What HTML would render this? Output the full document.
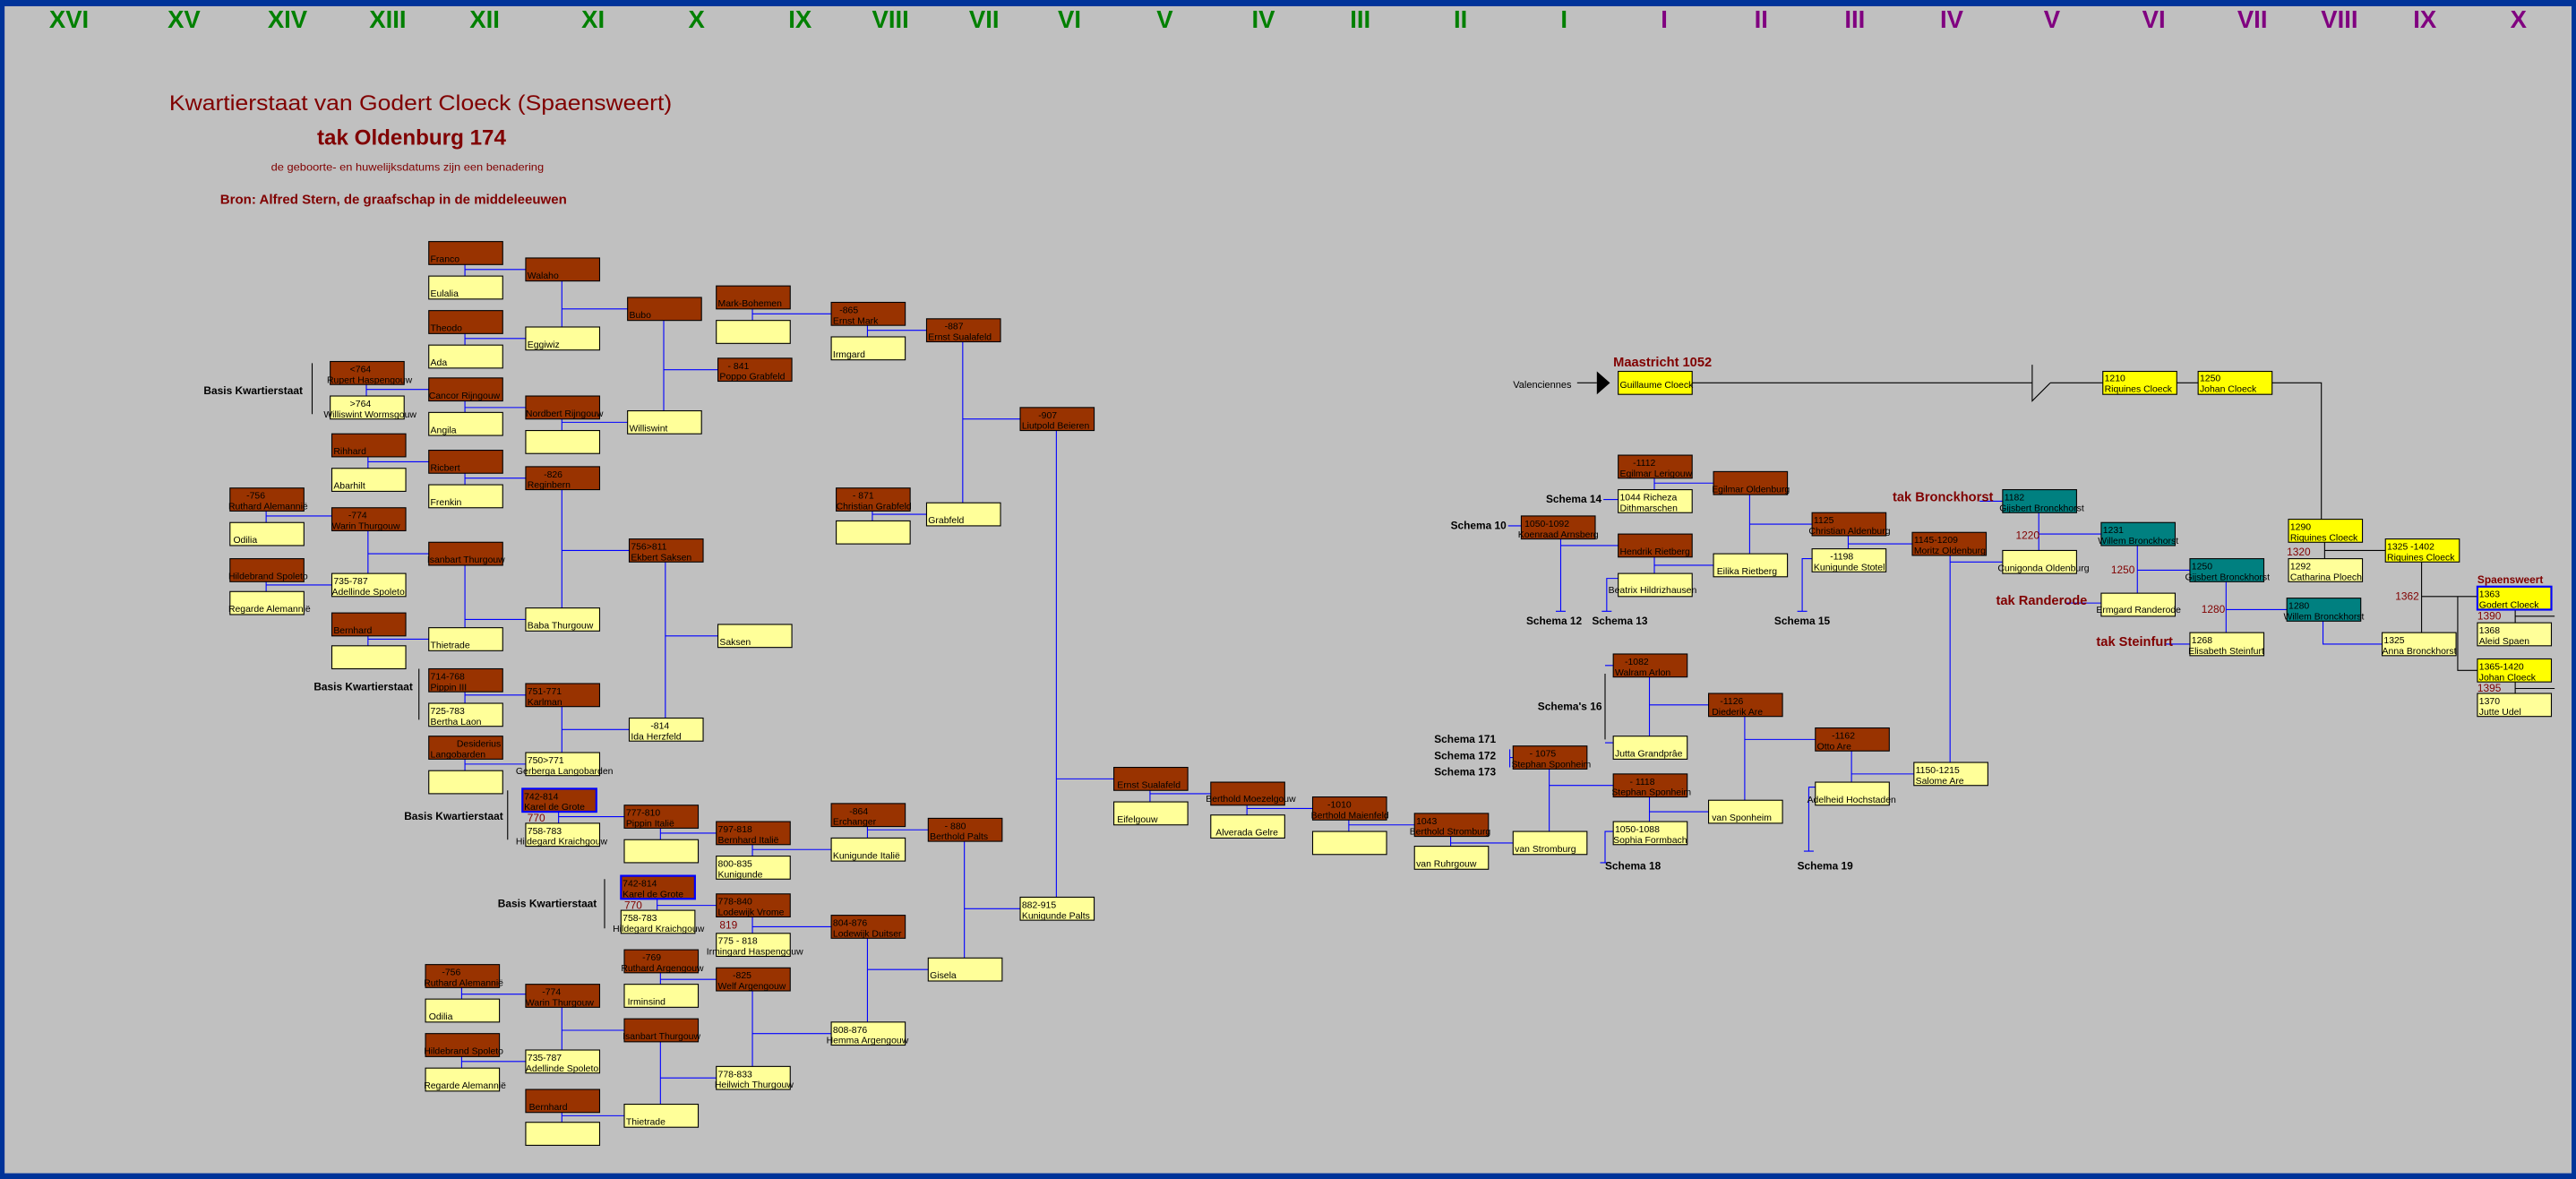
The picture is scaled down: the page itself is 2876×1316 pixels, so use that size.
<!DOCTYPE html>
<html><head><meta charset="utf-8"><style>
html,body{margin:0;padding:0;background:#c0c0c0;}
svg{display:block}
text{font-family:"Liberation Sans",Arial,sans-serif;}
.b{fill:#993300;stroke:#000;stroke-width:.6}
.y{fill:#ffff99;stroke:#000;stroke-width:.6}
.Y{fill:#ffff00;stroke:#000;stroke-width:.6}
.t{fill:#008080;stroke:#000;stroke-width:.6}
.k{fill:#993300;stroke:#0000ff;stroke-width:1.2}
.G{fill:#ffff00;stroke:#0000ff;stroke-width:1.2}
.bt text{font-size:5.7px;fill:#000}
.l{stroke:#0000ff;stroke-width:.6;fill:none}
.d{stroke:#000;stroke-width:.6;fill:none}
.n{font-size:15px;font-weight:bold;text-anchor:middle}
.s{font-size:6.5px;font-weight:bold;fill:#000}
.r{font-size:6.5px;fill:#800000}
.tak{font-size:8px;font-weight:bold;fill:#800000}
</style></head><body>
<svg width="2876" height="1316" viewBox="0 0 1568 717.5" preserveAspectRatio="none" xmlns="http://www.w3.org/2000/svg">
<rect x="0" y="0" width="1568" height="717.5" fill="#c0c0c0"/>
<rect x="0" y="0" width="1568" height="3.8" fill="#003399"/>
<rect x="0" y="714" width="1568" height="3.5" fill="#003399"/>
<rect x="0" y="0" width="2.8" height="717.5" fill="#003399"/>
<rect x="1565.3" y="0" width="2.7" height="717.5" fill="#003399"/>

<g class="n" fill="#008000">
<text x="42" y="17">XVI</text><text x="112" y="17">XV</text><text x="175" y="17">XIV</text><text x="236" y="17">XIII</text><text x="295" y="17">XII</text><text x="361" y="17">XI</text><text x="424" y="17">X</text><text x="487" y="17">IX</text><text x="542" y="17">VIII</text><text x="599" y="17">VII</text><text x="651" y="17">VI</text><text x="709" y="17">V</text><text x="769" y="17">IV</text><text x="828" y="17">III</text><text x="889" y="17">II</text><text x="952" y="17">I</text>
</g>
<g class="n" fill="#800080">
<text x="1013" y="17">I</text><text x="1072" y="17">II</text><text x="1129" y="17">III</text><text x="1188" y="17">IV</text><text x="1249" y="17">V</text><text x="1311" y="17">VI</text><text x="1371" y="17">VII</text><text x="1424" y="17">VIII</text><text x="1476" y="17">IX</text><text x="1533" y="17">X</text>
</g>

<text x="103" y="67" font-size="13" fill="#800000" textLength="306" lengthAdjust="spacingAndGlyphs">Kwartierstaat van Godert Cloeck (Spaensweert)</text>
<text x="193" y="88" font-size="13" font-weight="bold" fill="#800000" textLength="115" lengthAdjust="spacingAndGlyphs">tak Oldenburg 174</text>
<text x="165" y="104" font-size="6.5" fill="#800000" textLength="166" lengthAdjust="spacingAndGlyphs">de geboorte- en huwelijksdatums zijn een benadering</text>
<text x="134" y="124" font-size="8" font-weight="bold" fill="#800000" textLength="211" lengthAdjust="spacingAndGlyphs">Bron:  Alfred Stern, de graafschap in de middeleeuwen</text>

<g class="l">
<path d="M283 161V168M283 164H320"/>
<path d="M283 203V210M283 206H320"/>
<path d="M342 171V199M342 188H382"/>
<path d="M283 244V251M283 248H320"/>
<path d="M223 234V241M223 237H261"/>
<path d="M342 255V262M342 257H382"/>
<path d="M404 195V250M404 225H437"/>
<path d="M458 188V195M458 191H506"/>
<path d="M528 198V205M528 201H564"/>
<path d="M586 208V306M586 255H621"/>
<path d="M531 311V317M531 313H564"/>
<path d="M224 278V285M224 281H261"/>
<path d="M283 288V295M283 291H320"/>
<path d="M162 311V318M162 314H202"/>
<path d="M162 354V360M162 356H202"/>
<path d="M224 323V349M224 337H261"/>
<path d="M224 387V393M224 389H261"/>
<path d="M283 344V382M283 377H320"/>
<path d="M342 298V370M342 335H383"/>
<path d="M405 342V437M405 387H437"/>
<path d="M283 421V428M283 423H320"/>
<path d="M342 430V458M342 444H383"/>
<path d="M283 462V469M283 465H320"/>
<path d="M643 262V546M643 474H678"/>
<path d="M340 494V501M340 497H380"/>
<path d="M402 504V511M402 507H436"/>
<path d="M458 514V521M458 517H506"/>
<path d="M528 503V510M528 505H565"/>
<path d="M587 512V583M587 553H621"/>
<path d="M400 547V554M400 551H436"/>
<path d="M458 558V568M458 564H506"/>
<path d="M528 571V622M528 590H565"/>
<path d="M402 592V599M402 596H436"/>
<path d="M458 603V649M458 629H506"/>
<path d="M281 601V608M281 605H320"/>
<path d="M281 643V650M281 646H320"/>
<path d="M342 613V639M342 627H380"/>
<path d="M342 677V683M342 679H380"/>
<path d="M402 634V672M402 656H436"/>
<path d="M700 481V488M700 483H737"/>
<path d="M759 490V496M759 492H799"/>
<path d="M821 499V506M821 502H861"/>
<path d="M883 509V515M883 513H921"/>
<path d="M943 468V506M943 478H982"/>
<path d="M1004 485V500M1004 494H1040"/>
<path d="M1004 412V448M1004 429H1040"/>
<path d="M1062 436V487M1062 450H1105"/>
<path d="M1127 457V476M1127 471H1165"/>
<path d="M1187 338V464M1187 342H1219"/>
<path d="M1007 291V298M1007 294H1043"/>
<path d="M1007 339V349M1007 344H1043"/>
<path d="M1065 301V337M1065 319H1103"/>
<path d="M1125 326V334M1125 331H1164"/>
<path d="M950 328V372M947 372H953M950 332H985"/>
<path d="M985 352H978V372M975 372H981"/>
<path d="M1103 340H1097V372M1094 372H1100"/>
<path d="M976 304H985M918 320H926"/>
<path d="M1241 312V335M1241 325H1279"/>
<path d="M1301 332V361M1301 347H1333"/>
<path d="M1355 354V385M1355 371H1392"/>
<path d="M1414 378V392H1450"/>
<path d="M1205 305H1219M1258 367H1279M1318 392H1333"/>
<path d="M977 405H982M977 452H982"/>
<path d="M919 456V467M919 461H921"/>
<path d="M1105 479H1101V518M1098 518H1104M982 506H977V525M974 525H980"/>
</g>
<g class="d">
<path d="M190 221V252M255 407V438M309 481V511M368 535V565M977 410V450"/>
<path d="M1030 233H1237M1248 233H1280M1325 233H1338M1383 233H1413V316"/>
<path d="M1237 222V244L1248 233"/>
<path d="M1415 330V340M1415 335H1452"/>
<path d="M1474 342V385M1474 363H1508M1496 363V408H1508"/>
<path d="M1531 371V379M1531 375H1555M1531 415V422M1531 419H1555"/>
<path d="M960 233H972"/>
</g>
<polygon points="972,226 980,233 972,240" fill="#000"/>

<text class="s" x="124" y="240">Basis  Kwartierstaat</text>
<text class="s" x="191" y="420">Basis  Kwartierstaat</text>
<text class="s" x="246" y="499">Basis  Kwartierstaat</text>
<text class="s" x="303" y="552">Basis  Kwartierstaat</text>
<text class="r" x="321" y="500">770</text>
<text class="r" x="380" y="553">770</text>
<text class="r" x="438" y="565">819</text>
<text x="921" y="236" font-size="6">Valenciennes</text>
<text class="tak" x="982" y="223">Maastricht 1052</text>
<text class="s" x="941" y="306">Schema 14</text>
<text class="s" x="883" y="322">Schema 10</text>
<text class="s" x="929" y="380">Schema 12</text>
<text class="s" x="969" y="380">Schema 13</text>
<text class="s" x="1080" y="380">Schema 15</text>
<text class="s" x="936" y="432">Schema's 16</text>
<text class="s" x="873" y="452">Schema 171</text>
<text class="s" x="873" y="462">Schema 172</text>
<text class="s" x="873" y="472">Schema 173</text>
<text class="s" x="977" y="529">Schema 18</text>
<text class="s" x="1094" y="529">Schema 19</text>
<text class="tak" x="1152" y="305">tak Bronckhorst</text>
<text class="tak" x="1215" y="368">tak Randerode</text>
<text class="tak" x="1276" y="393">tak Steinfurt</text>
<text class="r" x="1227" y="328">1220</text>
<text class="r" x="1285" y="349">1250</text>
<text class="r" x="1340" y="373">1280</text>
<text class="r" x="1392" y="338">1320</text>
<text class="r" x="1458" y="365">1362</text>
<text class="r" x="1508" y="377">1390</text>
<text class="r" x="1508" y="421">1395</text>
<text class="tak" x="1508" y="355" font-size="6.5" style="font-size:6.5px">Spaensweert</text>

<g class="bt">
<rect class="b" x="261" y="147" width="45" height="14"/><text x="262" y="159.5">Franco</text>
<rect class="y" x="261" y="168" width="45" height="14"/><text x="262" y="180.5">Eulalia</text>
<rect class="b" x="320" y="157" width="45" height="14"/><text x="321" y="169.5">Walaho</text>
<rect class="b" x="261" y="189" width="45" height="14"/><text x="262" y="201.5">Theodo</text>
<rect class="y" x="261" y="210" width="45" height="14"/><text x="262" y="222.5">Ada</text>
<rect class="y" x="320" y="199" width="45" height="14"/><text x="321" y="211.5">Eggiwiz</text>
<rect class="b" x="382" y="181" width="45" height="14"/><text x="383" y="193.5">Bubo</text>
<rect class="b" x="261" y="230" width="45" height="14"/><text x="261" y="242.5">Cancor Rijngouw</text>
<rect class="y" x="261" y="251" width="45" height="14"/><text x="262" y="263.5">Angila</text>
<rect class="b" x="320" y="241" width="45" height="14"/><text x="320" y="253.5">Nordbert Rijngouw</text>
<rect class="y" x="320" y="262" width="45" height="14"/>
<rect class="y" x="382" y="250" width="45" height="14"/><text x="383" y="262.5">Williswint</text>
<rect class="b" x="201" y="220" width="45" height="14"/><text x="213" y="226.5">&lt;764</text><text x="199" y="233">Rupert Haspengouw</text>
<rect class="y" x="201" y="241" width="45" height="14"/><text x="213" y="247.5">&gt;764</text><text x="197" y="254">Williswint Wormsgouw</text>
<rect class="b" x="436" y="174" width="45" height="14"/><text x="437" y="186.5">Mark-Bohemen</text>
<rect class="y" x="436" y="195" width="45" height="14"/>
<rect class="b" x="437" y="218" width="45" height="14"/><text x="443" y="224.5">- 841</text><text x="438" y="231">Poppo Grabfeld</text>
<rect class="b" x="506" y="184" width="45" height="14"/><text x="511" y="190.5">-865</text><text x="507" y="197">Ernst Mark</text>
<rect class="y" x="506" y="205" width="45" height="14"/><text x="507" y="217.5">Irmgard</text>
<rect class="b" x="564" y="194" width="45" height="14"/><text x="575" y="200.5">-887</text><text x="565" y="207">Ernst Sualafeld</text>
<rect class="b" x="621" y="248" width="45" height="14"/><text x="632" y="254.5">-907</text><text x="622" y="261">Liutpold Beieren</text>
<rect class="b" x="202" y="264" width="45" height="14"/><text x="203" y="276.5">Rihhard</text>
<rect class="y" x="202" y="285" width="45" height="14"/><text x="203" y="297.5">Abarhilt</text>
<rect class="b" x="261" y="274" width="45" height="14"/><text x="262" y="286.5">Ricbert</text>
<rect class="y" x="261" y="295" width="45" height="14"/><text x="262" y="307.5">Frenkin</text>
<rect class="b" x="320" y="284" width="45" height="14"/><text x="331" y="290.5">-826</text><text x="321" y="297">Reginbern</text>
<rect class="b" x="140" y="297" width="45" height="14"/><text x="150" y="303.5">-756</text><text x="139" y="310">Ruthard Alemannië</text>
<rect class="y" x="140" y="318" width="45" height="14"/><text x="142" y="330.5">Odilia</text>
<rect class="b" x="140" y="340" width="45" height="14"/><text x="139" y="352.5">Hildebrand Spoleto</text>
<rect class="y" x="140" y="360" width="45" height="14"/><text x="139" y="372.5">Regarde Alemannië</text>
<rect class="b" x="202" y="309" width="45" height="14"/><text x="212" y="315.5">-774</text><text x="202" y="322">Warin Thurgouw</text>
<rect class="y" x="202" y="349" width="45" height="14"/><text x="203" y="355.5">735-787</text><text x="202" y="362">Adellinde Spoleto</text>
<rect class="b" x="261" y="330" width="45" height="14"/><text x="260" y="342.5">Isanbart Thurgouw</text>
<rect class="b" x="202" y="373" width="45" height="14"/><text x="203" y="385.5">Bernhard</text>
<rect class="y" x="202" y="393" width="45" height="14"/>
<rect class="y" x="261" y="382" width="45" height="14"/><text x="262" y="394.5">Thietrade</text>
<rect class="y" x="320" y="370" width="45" height="14"/><text x="321" y="382.5">Baba Thurgouw</text>
<rect class="b" x="383" y="328" width="45" height="14"/><text x="384" y="334.5">756&gt;811</text><text x="384" y="341">Ekbert Saksen</text>
<rect class="y" x="437" y="380" width="45" height="14"/><text x="438" y="392.5">Saksen</text>
<rect class="b" x="509" y="297" width="45" height="14"/><text x="519" y="303.5">- 871</text><text x="509" y="310">Christian Grabfeld</text>
<rect class="y" x="509" y="317" width="45" height="14"/>
<rect class="y" x="564" y="306" width="45" height="14"/><text x="565" y="318.5">Grabfeld</text>
<rect class="b" x="261" y="407" width="45" height="14"/><text x="262" y="413.5">714-768</text><text x="262" y="420">Pippin III</text>
<rect class="y" x="261" y="428" width="45" height="14"/><text x="262" y="434.5">725-783</text><text x="262" y="441">Bertha Laon</text>
<rect class="b" x="320" y="416" width="45" height="14"/><text x="321" y="422.5">751-771</text><text x="321" y="429">Karlman</text>
<rect class="y" x="383" y="437" width="45" height="14"/><text x="396" y="443.5">-814</text><text x="384" y="450">Ida Herzfeld</text>
<rect class="b" x="261" y="448" width="45" height="14"/><text x="278" y="454.5">Desiderius</text><text x="262" y="461">Langobarden</text>
<rect class="y" x="261" y="469" width="45" height="14"/>
<rect class="y" x="320" y="458" width="45" height="14"/><text x="321" y="464.5">750&gt;771</text><text x="314" y="471">Gerberga Langobarden</text>
<rect class="k" x="318" y="480" width="45" height="14"/><text x="319" y="486.5">742-814</text><text x="319" y="493">Karel de Grote</text>
<rect class="y" x="320" y="501" width="45" height="14"/><text x="321" y="507.5">758-783</text><text x="314" y="514">Hildegard Kraichgouw</text>
<rect class="b" x="380" y="490" width="45" height="14"/><text x="381" y="496.5">777-810</text><text x="381" y="503">Pippin  Italië</text>
<rect class="y" x="380" y="511" width="45" height="14"/>
<rect class="b" x="436" y="500" width="45" height="14"/><text x="437" y="506.5">797-818</text><text x="437" y="513">Bernhard Italië</text>
<rect class="y" x="436" y="521" width="45" height="14"/><text x="437" y="527.5">800-835</text><text x="437" y="534">Kunigunde</text>
<rect class="b" x="506" y="489" width="45" height="14"/><text x="517" y="495.5">-864</text><text x="507" y="502">Erchanger</text>
<rect class="y" x="506" y="510" width="45" height="14"/><text x="507" y="522.5">Kunigunde Italië</text>
<rect class="b" x="565" y="498" width="45" height="14"/><text x="575" y="504.5">- 880</text><text x="566" y="511">Berthold Palts</text>
<rect class="y" x="621" y="546" width="45" height="14"/><text x="622" y="552.5">882-915</text><text x="622" y="559">Kunigunde Palts</text>
<rect class="k" x="378" y="533" width="45" height="14"/><text x="379" y="539.5">742-814</text><text x="379" y="546">Karel de Grote</text>
<rect class="y" x="378" y="554" width="45" height="14"/><text x="379" y="560.5">758-783</text><text x="373" y="567">Hildegard Kraichgouw</text>
<rect class="b" x="436" y="544" width="45" height="14"/><text x="437" y="550.5">778-840</text><text x="437" y="557">Lodewijk Vrome</text>
<rect class="y" x="436" y="568" width="45" height="14"/><text x="437" y="574.5">775 - 818</text><text x="430" y="581">Irmingard Haspengouw</text>
<rect class="b" x="506" y="557" width="45" height="14"/><text x="507" y="563.5">804-876</text><text x="507" y="570">Lodewijk Duitser</text>
<rect class="y" x="565" y="583" width="45" height="14"/><text x="566" y="595.5">Gisela</text>
<rect class="b" x="380" y="578" width="45" height="14"/><text x="391" y="584.5">-769</text><text x="378" y="591">Ruthard Argengouw</text>
<rect class="y" x="380" y="599" width="45" height="14"/><text x="382" y="611.5">Irminsind</text>
<rect class="b" x="436" y="589" width="45" height="14"/><text x="446" y="595.5">-825</text><text x="437" y="602">Welf Argengouw</text>
<rect class="y" x="506" y="622" width="45" height="14"/><text x="507" y="628.5">808-876</text><text x="503" y="635">Hemma Argengouw</text>
<rect class="y" x="436" y="649" width="45" height="14"/><text x="437" y="655.5">778-833</text><text x="435" y="662">Heilwich Thurgouw</text>
<rect class="b" x="259" y="587" width="45" height="14"/><text x="269" y="593.5">-756</text><text x="258" y="600">Ruthard Alemannië</text>
<rect class="y" x="259" y="608" width="45" height="14"/><text x="261" y="620.5">Odilia</text>
<rect class="b" x="259" y="629" width="45" height="14"/><text x="258" y="641.5">Hildebrand Spoleto</text>
<rect class="y" x="259" y="650" width="45" height="14"/><text x="258" y="662.5">Regarde Alemannië</text>
<rect class="b" x="320" y="599" width="45" height="14"/><text x="330" y="605.5">-774</text><text x="320" y="612">Warin Thurgouw</text>
<rect class="y" x="320" y="639" width="45" height="14"/><text x="321" y="645.5">735-787</text><text x="320" y="652">Adellinde Spoleto</text>
<rect class="b" x="380" y="620" width="45" height="14"/><text x="379" y="632.5">Isanbart Thurgouw</text>
<rect class="b" x="320" y="663" width="45" height="14"/><text x="322" y="675.5">Bernhard</text>
<rect class="y" x="320" y="683" width="45" height="14"/>
<rect class="y" x="380" y="672" width="45" height="14"/><text x="381" y="684.5">Thietrade</text>
<rect class="b" x="678" y="467" width="45" height="14"/><text x="680" y="479.5">Ernst Sualafeld</text>
<rect class="y" x="678" y="488" width="45" height="14"/><text x="680" y="500.5">Eifelgouw</text>
<rect class="b" x="737" y="476" width="45" height="14"/><text x="734" y="488">Berthold Moezelgouw</text>
<rect class="y" x="737" y="496" width="45" height="14"/><text x="740" y="508.5">Alverada Gelre</text>
<rect class="b" x="799" y="485" width="45" height="14"/><text x="808" y="491.5">-1010</text><text x="798" y="498">Berthold Maienfeld</text>
<rect class="y" x="799" y="506" width="45" height="14"/>
<rect class="b" x="861" y="495" width="45" height="14"/><text x="862" y="501.5">1043</text><text x="858" y="508">Berthold Stromburg</text>
<rect class="y" x="861" y="515" width="45" height="14"/><text x="862" y="527.5">van Ruhrgouw</text>
<rect class="y" x="921" y="506" width="45" height="14"/><text x="922" y="518.5">van Stromburg</text>
<rect class="b" x="921" y="454" width="45" height="14"/><text x="931" y="460.5">- 1075</text><text x="920" y="467">Stephan Sponheim</text>
<rect class="b" x="982" y="471" width="45" height="14"/><text x="992" y="477.5">- 1118</text><text x="981" y="484">Stephan Sponheim</text>
<rect class="y" x="1040" y="487" width="45" height="14"/><text x="1042" y="499.5">van Sponheim</text>
<rect class="y" x="982" y="500" width="45" height="14"/><text x="983" y="506.5">1050-1088</text><text x="982" y="513">Sophia Formbach</text>
<rect class="b" x="982" y="398" width="45" height="14"/><text x="989" y="404.5">-1082</text><text x="983" y="411">Walram Arlon</text>
<rect class="y" x="982" y="448" width="45" height="14"/><text x="983" y="460.5">Jutta Grandprâe</text>
<rect class="b" x="1040" y="422" width="45" height="14"/><text x="1047" y="428.5">-1126</text><text x="1042" y="435">Diederik Are</text>
<rect class="b" x="1105" y="443" width="45" height="14"/><text x="1115" y="449.5">-1162</text><text x="1106" y="456">Otto Are</text>
<rect class="y" x="1105" y="476" width="45" height="14"/><text x="1100" y="488.5">Adelheid Hochstaden</text>
<rect class="y" x="1165" y="464" width="45" height="14"/><text x="1166" y="470.5">1150-1215</text><text x="1166" y="477">Salome Are</text>
<rect class="b" x="985" y="277" width="45" height="14"/><text x="994" y="283.5">-1112</text><text x="986" y="290">Egilmar Lerigouw</text>
<rect class="y" x="985" y="298" width="45" height="14"/><text x="986" y="304.5">1044    Richeza</text><text x="986" y="311">Dithmarschen</text>
<rect class="b" x="1043" y="287" width="45" height="14"/><text x="1042" y="299.5">Egilmar Oldenburg</text>
<rect class="b" x="926" y="314" width="45" height="14"/><text x="928" y="320.5">1050-1092</text><text x="924" y="327">Koenraad Arnsberg</text>
<rect class="b" x="985" y="325" width="45" height="14"/><text x="986" y="337.5">Hendrik Rietberg</text>
<rect class="y" x="985" y="349" width="45" height="14"/><text x="979" y="361">Beatrix Hildrizhausen</text>
<rect class="y" x="1043" y="337" width="45" height="14"/><text x="1045" y="349.5">Eilika Rietberg</text>
<rect class="b" x="1103" y="312" width="45" height="14"/><text x="1104" y="318.5">1125</text><text x="1101" y="325">Christian Aldenburg</text>
<rect class="y" x="1103" y="334" width="45" height="14"/><text x="1114" y="340.5">-1198</text><text x="1104" y="347">Kunigunde Stotel</text>
<rect class="b" x="1164" y="324" width="45" height="14"/><text x="1165" y="330.5">1145-1209</text><text x="1165" y="337">Moritz Oldenburg</text>
<rect class="Y" x="985" y="226" width="45" height="14"/><text x="986" y="236">Guillaume Cloeck</text>
<rect class="Y" x="1280" y="226" width="45" height="14"/><text x="1281" y="232">1210</text><text x="1281" y="238.5">Riquines Cloeck</text>
<rect class="Y" x="1338" y="226" width="45" height="14"/><text x="1339" y="232">1250</text><text x="1339" y="238.5">Johan Cloeck</text>
<rect class="t" x="1219" y="298" width="45" height="14"/><text x="1220" y="304.5">1182</text><text x="1217" y="311">Gijsbert Bronckhorst</text>
<rect class="y" x="1219" y="335" width="45" height="14"/><text x="1216" y="347.5">Cunigonda Oldenburg</text>
<rect class="t" x="1279" y="318" width="45" height="14"/><text x="1280" y="324.5">1231</text><text x="1277" y="331">Willem Bronckhorst</text>
<rect class="y" x="1279" y="361" width="45" height="14"/><text x="1276" y="373">Ermgard Randerode</text>
<rect class="t" x="1333" y="340" width="45" height="14"/><text x="1334" y="346.5">1250</text><text x="1330" y="353">Gijsbert Bronckhorst</text>
<rect class="t" x="1392" y="364" width="45" height="14"/><text x="1393" y="370.5">1280</text><text x="1390" y="377">Willem Bronckhorst</text>
<rect class="y" x="1333" y="385" width="45" height="14"/><text x="1334" y="391.5">1268</text><text x="1332" y="398">Elisabeth Steinfurt</text>
<rect class="Y" x="1393" y="316" width="45" height="14"/><text x="1394" y="322.5">1290</text><text x="1394" y="329">Riquines Cloeck</text>
<rect class="y" x="1393" y="340" width="45" height="14"/><text x="1394" y="346.5">1292</text><text x="1394" y="353">Catharina Ploech</text>
<rect class="Y" x="1452" y="328" width="45" height="14"/><text x="1453" y="334.5">1325 -1402</text><text x="1453" y="341">Riquines Cloeck</text>
<rect class="y" x="1450" y="385" width="45" height="14"/><text x="1451" y="391.5">1325</text><text x="1450" y="398">Anna Bronckhorst</text>
<rect class="G" x="1508" y="357" width="45" height="14"/><text x="1509" y="363.5">1363</text><text x="1509" y="370">Godert Cloeck</text>
<rect class="y" x="1508" y="379" width="45" height="14"/><text x="1509" y="385.5">1368</text><text x="1509" y="392">Aleid Spaen</text>
<rect class="Y" x="1508" y="401" width="45" height="14"/><text x="1509" y="407.5">1365-1420</text><text x="1509" y="414">Johan Cloeck</text>
<rect class="y" x="1508" y="422" width="45" height="14"/><text x="1509" y="428.5">1370</text><text x="1509" y="435">Jutte Udel</text>
</g>
</svg>
</body></html>
